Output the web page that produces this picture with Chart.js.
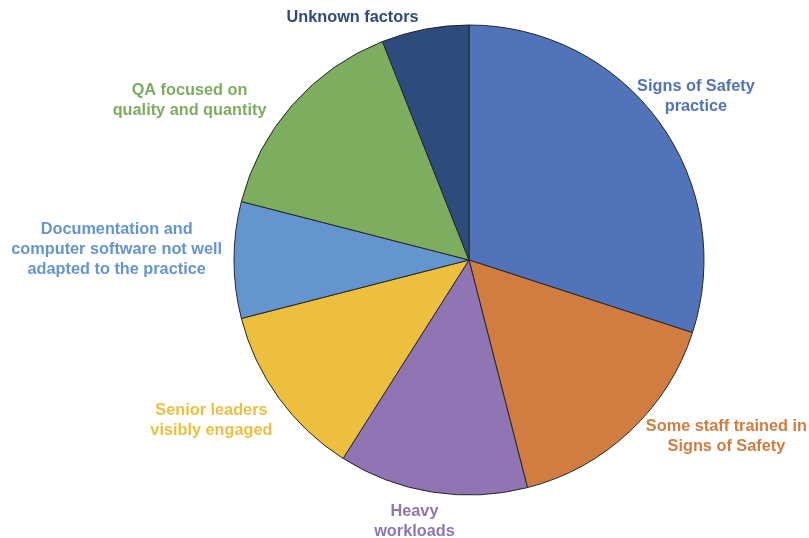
<!DOCTYPE html>
<html>
<head>
<meta charset="utf-8">
<title>Factors</title>
<script src="https://cdn.jsdelivr.net/npm/chart.js@4.4.1/dist/chart.umd.min.js"></script>
<style>
  html, body { margin: 0; padding: 0; background: #ffffff; }
  #wrap { width: 809px; height: 538px; }
</style>
</head>
<body>
<div id="wrap"><canvas id="pie" width="809" height="538"></canvas></div>
<script>
// Slice categories, clockwise from 12 o'clock
const categories = [
  ['Signs of Safety', 'practice'],
  ['Some staff trained in', 'Signs of Safety'],
  ['Heavy', 'workloads'],
  ['Senior leaders', 'visibly engaged'],
  ['Documentation and', 'computer software not well', 'adapted to the practice'],
  ['QA focused on', 'quality and quantity'],
  ['Unknown factors']
];

// Share of each slice (%)
const shares = [30, 16, 13, 12, 8, 15, 6];

const sliceColors = ['#5173b9', '#d17d41', '#8f75b4', '#edbf3f', '#6595cf', '#7dad5f', '#2d4b7b'];

// Where each label sits: direction in degrees (clockwise from top) and distance as a multiple of the radius
const labelAngles = [54.3, 124.5, 191.8, 238.1, 271.7, 299.7, 334.3];
const labelDistances = [1.189, 1.329, 1.135, 1.291, 1.5, 1.369, 1.143];

const outsideLabels = {
  id: 'outsideLabels',
  afterDatasetsDraw(chart) {
    const ctx = chart.ctx;
    const arcs = chart.getDatasetMeta(0).data;
    ctx.save();
    ctx.font = 'bold 16.3px "Liberation Sans", Arial, sans-serif';
    ctx.textAlign = 'center';
    ctx.textBaseline = 'middle';
    const lineH = 20;
    arcs.forEach((arc, i) => {
      const a = labelAngles[i] * Math.PI / 180;
      const d = arc.outerRadius * labelDistances[i];
      const cx = arc.x + Math.sin(a) * d;
      const cy = arc.y - Math.cos(a) * d;
      const lines = categories[i];
      ctx.fillStyle = sliceColors[i];
      lines.forEach((ln, k) => {
        ctx.fillText(ln, cx, cy + (k - (lines.length - 1) / 2) * lineH);
      });
    });
    ctx.restore();
  }
};

new Chart(document.getElementById('pie'), {
  type: 'pie',
  data: {
    labels: categories.map(c => c.join(' ')),
    datasets: [{
      data: shares,
      backgroundColor: sliceColors,
      borderColor: '#262626',
      borderWidth: 1,
      hoverOffset: 0
    }]
  },
  options: {
    responsive: false,
    animation: false,
    radius: 235,
    layout: { padding: { left: 169, right: 40, top: 25, bottom: 43 } },
    plugins: {
      legend: { display: false },
      tooltip: { enabled: false }
    }
  },
  plugins: [outsideLabels]
});
</script>
</body>
</html>
